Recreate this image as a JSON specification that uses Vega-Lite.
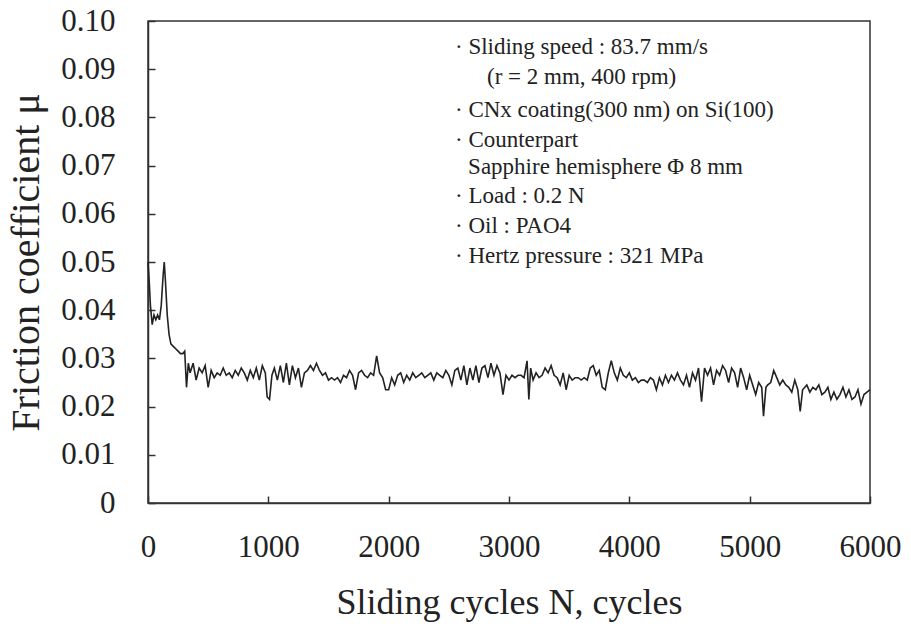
{
  "$schema": "https://vega.github.io/schema/vega-lite/v6.json",
  "autosize": {"type": "none"},
  "padding": {"left": 148, "top": 21, "right": 41, "bottom": 135},
  "width": 722,
  "height": 482,
  "background": "white",
  "config": {
    "font": "Liberation Serif",
    "view": {"stroke": "#333", "strokeWidth": 1.5},
    "axis": {"grid": false, "domainColor": "#333", "domainWidth": 1.5, "tickColor": "#333", "tickWidth": 1.5, "labelColor": "#222", "titleColor": "#222", "labelFont": "Liberation Serif", "titleFont": "Liberation Serif", "titleFontWeight": "normal"}
  },
  "datasets": {
    "friction": [
      {"N": 0, "mu": 0.050}, {"N": 10, "mu": 0.046}, {"N": 20, "mu": 0.041}, {"N": 35, "mu": 0.037}, {"N": 50, "mu": 0.039}, {"N": 65, "mu": 0.038}, {"N": 80, "mu": 0.039}, {"N": 95, "mu": 0.038}, {"N": 110, "mu": 0.041}, {"N": 125, "mu": 0.047}, {"N": 135, "mu": 0.050}, {"N": 145, "mu": 0.046}, {"N": 160, "mu": 0.039}, {"N": 175, "mu": 0.035}, {"N": 190, "mu": 0.033}, {"N": 210, "mu": 0.0325}, {"N": 230, "mu": 0.032}, {"N": 250, "mu": 0.0315}, {"N": 270, "mu": 0.031}, {"N": 290, "mu": 0.031}, {"N": 305, "mu": 0.0315}, {"N": 320, "mu": 0.024}, {"N": 335, "mu": 0.029}, {"N": 350, "mu": 0.027},
      {"N": 375, "mu": 0.029}, {"N": 400, "mu": 0.0255}, {"N": 425, "mu": 0.028}, {"N": 450, "mu": 0.027}, {"N": 475, "mu": 0.0285}, {"N": 500, "mu": 0.024}, {"N": 525, "mu": 0.0275}, {"N": 550, "mu": 0.026}, {"N": 575, "mu": 0.027}, {"N": 600, "mu": 0.0265}, {"N": 625, "mu": 0.028}, {"N": 650, "mu": 0.0265}, {"N": 675, "mu": 0.027}, {"N": 700, "mu": 0.026}, {"N": 725, "mu": 0.0275}, {"N": 750, "mu": 0.0265}, {"N": 775, "mu": 0.028}, {"N": 800, "mu": 0.027}, {"N": 825, "mu": 0.0255}, {"N": 850, "mu": 0.0275}, {"N": 875, "mu": 0.026}, {"N": 900, "mu": 0.028}, {"N": 925, "mu": 0.0255}, {"N": 950, "mu": 0.0285}, {"N": 975, "mu": 0.027}, {"N": 990, "mu": 0.022}, {"N": 1010, "mu": 0.0215}, {"N": 1030, "mu": 0.0265},
      {"N": 1050, "mu": 0.028}, {"N": 1075, "mu": 0.0255}, {"N": 1100, "mu": 0.0285}, {"N": 1125, "mu": 0.025}, {"N": 1150, "mu": 0.029}, {"N": 1175, "mu": 0.0245}, {"N": 1200, "mu": 0.0285}, {"N": 1225, "mu": 0.026}, {"N": 1250, "mu": 0.028}, {"N": 1275, "mu": 0.024}, {"N": 1300, "mu": 0.027}, {"N": 1325, "mu": 0.0275}, {"N": 1350, "mu": 0.0285}, {"N": 1375, "mu": 0.0275}, {"N": 1400, "mu": 0.029}, {"N": 1425, "mu": 0.0275}, {"N": 1450, "mu": 0.0265}, {"N": 1475, "mu": 0.027}, {"N": 1500, "mu": 0.0255}, {"N": 1525, "mu": 0.026}, {"N": 1550, "mu": 0.0255}, {"N": 1575, "mu": 0.026}, {"N": 1600, "mu": 0.025}, {"N": 1625, "mu": 0.0265}, {"N": 1650, "mu": 0.026}, {"N": 1675, "mu": 0.0275}, {"N": 1700, "mu": 0.0265}, {"N": 1725, "mu": 0.0235}, {"N": 1750, "mu": 0.027}, {"N": 1775, "mu": 0.0275}, {"N": 1800, "mu": 0.0265}, {"N": 1825, "mu": 0.026}, {"N": 1850, "mu": 0.027}, {"N": 1875, "mu": 0.0265}, {"N": 1900, "mu": 0.0305}, {"N": 1925, "mu": 0.027}, {"N": 1950, "mu": 0.026}, {"N": 1975, "mu": 0.0235}, {"N": 2000, "mu": 0.0235},
      {"N": 2025, "mu": 0.026}, {"N": 2050, "mu": 0.0245}, {"N": 2075, "mu": 0.0265}, {"N": 2100, "mu": 0.027}, {"N": 2125, "mu": 0.025}, {"N": 2150, "mu": 0.0265}, {"N": 2175, "mu": 0.0255}, {"N": 2200, "mu": 0.027}, {"N": 2225, "mu": 0.026}, {"N": 2250, "mu": 0.0265}, {"N": 2275, "mu": 0.027}, {"N": 2300, "mu": 0.026}, {"N": 2325, "mu": 0.0265}, {"N": 2350, "mu": 0.027}, {"N": 2375, "mu": 0.0255}, {"N": 2400, "mu": 0.027}, {"N": 2425, "mu": 0.0265}, {"N": 2450, "mu": 0.026}, {"N": 2475, "mu": 0.0275}, {"N": 2500, "mu": 0.0265}, {"N": 2525, "mu": 0.0245}, {"N": 2550, "mu": 0.0275}, {"N": 2575, "mu": 0.028}, {"N": 2600, "mu": 0.0255}, {"N": 2625, "mu": 0.0285}, {"N": 2650, "mu": 0.0245}, {"N": 2675, "mu": 0.028}, {"N": 2700, "mu": 0.0255}, {"N": 2725, "mu": 0.0285}, {"N": 2750, "mu": 0.025}, {"N": 2775, "mu": 0.028}, {"N": 2800, "mu": 0.0285}, {"N": 2825, "mu": 0.026}, {"N": 2850, "mu": 0.029}, {"N": 2875, "mu": 0.0265}, {"N": 2900, "mu": 0.0285}, {"N": 2925, "mu": 0.027}, {"N": 2950, "mu": 0.0225}, {"N": 2975, "mu": 0.0265}, {"N": 3000, "mu": 0.0255},
      {"N": 3025, "mu": 0.0265}, {"N": 3050, "mu": 0.026}, {"N": 3075, "mu": 0.0265}, {"N": 3100, "mu": 0.0265}, {"N": 3125, "mu": 0.026}, {"N": 3150, "mu": 0.0295}, {"N": 3165, "mu": 0.0215}, {"N": 3180, "mu": 0.028}, {"N": 3200, "mu": 0.0255}, {"N": 3225, "mu": 0.027}, {"N": 3250, "mu": 0.026}, {"N": 3275, "mu": 0.0265}, {"N": 3300, "mu": 0.028}, {"N": 3325, "mu": 0.027}, {"N": 3350, "mu": 0.0285}, {"N": 3375, "mu": 0.0265}, {"N": 3400, "mu": 0.026}, {"N": 3425, "mu": 0.0245}, {"N": 3450, "mu": 0.027}, {"N": 3475, "mu": 0.0235}, {"N": 3500, "mu": 0.0265}, {"N": 3525, "mu": 0.0255}, {"N": 3550, "mu": 0.026}, {"N": 3575, "mu": 0.026}, {"N": 3600, "mu": 0.0255}, {"N": 3625, "mu": 0.026}, {"N": 3650, "mu": 0.0255}, {"N": 3675, "mu": 0.028}, {"N": 3700, "mu": 0.0285}, {"N": 3725, "mu": 0.0265}, {"N": 3750, "mu": 0.0275}, {"N": 3775, "mu": 0.024}, {"N": 3800, "mu": 0.0235}, {"N": 3825, "mu": 0.027}, {"N": 3850, "mu": 0.0295}, {"N": 3875, "mu": 0.027}, {"N": 3900, "mu": 0.0255}, {"N": 3925, "mu": 0.028}, {"N": 3950, "mu": 0.0265}, {"N": 3975, "mu": 0.026}, {"N": 4000, "mu": 0.027},
      {"N": 4025, "mu": 0.0255}, {"N": 4050, "mu": 0.026}, {"N": 4075, "mu": 0.025}, {"N": 4100, "mu": 0.0255}, {"N": 4125, "mu": 0.0255}, {"N": 4150, "mu": 0.025}, {"N": 4175, "mu": 0.026}, {"N": 4200, "mu": 0.0255}, {"N": 4225, "mu": 0.0235}, {"N": 4250, "mu": 0.026}, {"N": 4275, "mu": 0.0245}, {"N": 4300, "mu": 0.0265}, {"N": 4325, "mu": 0.025}, {"N": 4350, "mu": 0.0265}, {"N": 4375, "mu": 0.0255}, {"N": 4400, "mu": 0.027}, {"N": 4425, "mu": 0.0255}, {"N": 4450, "mu": 0.0245}, {"N": 4475, "mu": 0.0265}, {"N": 4500, "mu": 0.024}, {"N": 4525, "mu": 0.027}, {"N": 4550, "mu": 0.0255}, {"N": 4575, "mu": 0.028}, {"N": 4600, "mu": 0.021}, {"N": 4625, "mu": 0.028}, {"N": 4650, "mu": 0.0265}, {"N": 4675, "mu": 0.028}, {"N": 4700, "mu": 0.0245}, {"N": 4725, "mu": 0.0275}, {"N": 4750, "mu": 0.0265}, {"N": 4775, "mu": 0.0285}, {"N": 4800, "mu": 0.0275}, {"N": 4825, "mu": 0.025}, {"N": 4850, "mu": 0.028}, {"N": 4875, "mu": 0.027}, {"N": 4900, "mu": 0.024}, {"N": 4925, "mu": 0.028}, {"N": 4950, "mu": 0.026}, {"N": 4975, "mu": 0.0235}, {"N": 5000, "mu": 0.0265},
      {"N": 5025, "mu": 0.0245}, {"N": 5050, "mu": 0.0225}, {"N": 5075, "mu": 0.025}, {"N": 5100, "mu": 0.024}, {"N": 5115, "mu": 0.018}, {"N": 5135, "mu": 0.024}, {"N": 5150, "mu": 0.0245}, {"N": 5175, "mu": 0.025}, {"N": 5200, "mu": 0.0275}, {"N": 5225, "mu": 0.026}, {"N": 5250, "mu": 0.0245}, {"N": 5275, "mu": 0.0255}, {"N": 5300, "mu": 0.0245}, {"N": 5325, "mu": 0.024}, {"N": 5350, "mu": 0.023}, {"N": 5375, "mu": 0.0255}, {"N": 5400, "mu": 0.0235}, {"N": 5420, "mu": 0.019}, {"N": 5440, "mu": 0.0235}, {"N": 5475, "mu": 0.0245}, {"N": 5500, "mu": 0.023}, {"N": 5525, "mu": 0.024}, {"N": 5550, "mu": 0.0235}, {"N": 5575, "mu": 0.0245}, {"N": 5600, "mu": 0.0225}, {"N": 5625, "mu": 0.023}, {"N": 5650, "mu": 0.024}, {"N": 5675, "mu": 0.0215}, {"N": 5700, "mu": 0.023}, {"N": 5725, "mu": 0.0215}, {"N": 5750, "mu": 0.0225}, {"N": 5775, "mu": 0.024}, {"N": 5800, "mu": 0.022}, {"N": 5825, "mu": 0.0235}, {"N": 5850, "mu": 0.0215}, {"N": 5875, "mu": 0.022}, {"N": 5900, "mu": 0.0235}, {"N": 5925, "mu": 0.0205}, {"N": 5950, "mu": 0.0225}, {"N": 5975, "mu": 0.023}, {"N": 6000, "mu": 0.0235}
    ],
    "notes": [
      {"N": 2551, "mu": 0.0946, "text": "·  Sliding speed : 83.7 mm/s"},
      {"N": 2817, "mu": 0.0884, "text": "(r = 2 mm, 400 rpm)"},
      {"N": 2551, "mu": 0.0815, "text": "·  CNx coating(300 nm) on Si(100)"},
      {"N": 2551, "mu": 0.0753, "text": "·  Counterpart"},
      {"N": 2660, "mu": 0.0697, "text": "Sapphire hemisphere Φ 8 mm"},
      {"N": 2551, "mu": 0.0637, "text": "·  Load : 0.2 N"},
      {"N": 2551, "mu": 0.0575, "text": "·  Oil : PAO4"},
      {"N": 2551, "mu": 0.0512, "text": "·  Hertz pressure : 321 MPa"}
    ]
  },
  "encoding": {
    "x": {"field": "N", "type": "quantitative", "scale": {"domain": [0, 6000], "nice": false},
      "axis": {"title": "Sliding cycles N, cycles", "values": [0, 1000, 2000, 3000, 4000, 5000, 6000], "format": "d", "labelFont": "Liberation Serif", "titleFont": "Liberation Serif", "labelFontSize": 31, "titleFontSize": 36, "tickSize": -7, "labelPadding": 36, "titlePadding": 23, "labelFlush": false}},
    "y": {"field": "mu", "type": "quantitative", "scale": {"domain": [0, 0.1], "nice": false},
      "axis": {"title": "Friction coefficient μ", "values": [0, 0.01, 0.02, 0.03, 0.04, 0.05, 0.06, 0.07, 0.08, 0.09, 0.1], "labelExpr": "datum.value == 0 ? '0' : format(datum.value, '.2f')", "labelFont": "Liberation Serif", "titleFont": "Liberation Serif", "labelFontSize": 31, "titleFontSize": 40, "tickSize": -7, "labelPadding": 40, "titlePadding": 14, "labelFlush": false}}
  },
  "layer": [
    {"data": {"name": "friction"}, "mark": {"type": "line", "color": "#222", "strokeWidth": 1.6, "interpolate": "linear"}},
    {"data": {"name": "notes"}, "mark": {"type": "text", "align": "left", "baseline": "middle", "fontSize": 23, "font": "Liberation Serif", "color": "#222"}, "encoding": {"text": {"field": "text"}}}
  ]
}
